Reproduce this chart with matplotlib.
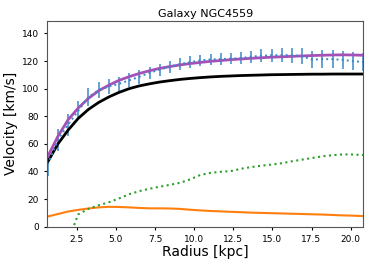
import numpy as np
import matplotlib.pyplot as plt

# Radius grid [kpc]
radius = [0.65, 1.30, 1.95, 2.60, 3.25, 3.90, 4.55, 5.20, 5.85, 6.50, 7.15, 7.80,
          8.45, 9.10, 9.75, 10.40, 11.05, 11.70, 12.35, 13.00, 13.65, 14.30, 14.95, 15.60,
          16.25, 16.90, 17.55, 18.20, 18.85, 19.50, 20.15, 20.80]

# Observed rotation curve and errors [km/s]
v_obs = [45, 63, 74, 84, 94, 99, 101.5, 103.5, 106, 108.6, 111.5, 113.8,
         115.9, 117.8, 119.2, 120.5, 121.2, 121.4, 121.8, 122.1, 123.2, 123.8, 124.2, 124.3,
         124.3, 123.5, 121.0, 121.4, 121.4, 120.8, 120.0, 119.3]
v_err = [8, 8, 8, 7, 6.5, 6, 5.5, 5, 5, 5, 4.5, 4.3,
         4.2, 4.2, 4.2, 4.2, 4.2, 4.2, 4.2, 4.2, 4.4, 4.6, 4.8, 5,
         5.4, 5.8, 6.2, 6.4, 6.6, 6.6, 6.6, 6.6]

# Model components [km/s]
v_total = [51, 65.5, 77.5, 86, 93, 98.5, 102.5, 106, 108.7, 111, 113, 114.7,
           116, 117.2, 118.2, 119, 119.8, 120.4, 121, 121.5, 122, 122.4, 122.8, 123.1,
           123.4, 123.7, 124, 124.2, 124.4, 124.5, 124.4, 124.2]
v_halo = [47, 60, 70, 78.5, 85, 90, 94, 97.3, 100, 102, 103.5, 104.8,
          105.8, 106.7, 107.4, 108, 108.5, 108.9, 109.2, 109.5, 109.7, 109.9, 110.1, 110.2,
          110.3, 110.4, 110.5, 110.5, 110.6, 110.6, 110.6, 110.6]
v_gas = [np.nan, np.nan, -10, 9, 13, 15.5, 17.7, 20.5, 23.5, 25.8, 27.5, 29,
         30.3, 31.8, 34.3, 37.5, 39, 39.8, 40.3, 42, 43.2, 44.2, 45, 46,
         47.4, 48.6, 49.8, 51, 51.8, 52.4, 52.3, 51.9]
v_disk = [7.4, 9.2, 11, 12.2, 13.2, 14, 14.4, 14.3, 14, 13.6, 13.3, 13.3,
          13.2, 12.9, 12.3, 11.8, 11.4, 11.1, 10.8, 10.5, 10.2, 10, 9.8, 9.6,
          9.4, 9.2, 9, 8.8, 8.5, 8.2, 8, 7.7]

fig = plt.figure(figsize=(3.74, 2.66), dpi=100)
ax = fig.add_axes([0.1265, 0.1477, 0.8445, 0.7733])

ax.errorbar(radius, v_obs, yerr=v_err, fmt=':', color='#3b87c6', lw=1.4, elinewidth=1.1)
ax.plot(radius, v_disk, color='C1', lw=1.5)
ax.plot(radius, v_gas, ':', color='C2', lw=1.5)
ax.plot(radius, v_halo, color='k', lw=2)
ax.plot(radius, v_total, color='#a550b8', lw=2)

ax.set_xlim(0.62, 20.8)
ax.set_ylim(0, 149)
ax.set_xticks([2.5, 5, 7.5, 10, 12.5, 15, 17.5, 20])
ax.tick_params(labelsize=6.5, length=2.5, width=0.8)
ax.set_xlabel('Radius [kpc]', fontsize=10, labelpad=1)
ax.set_ylabel('Velocity [km/s]', fontsize=10, labelpad=3)
ax.set_title('Galaxy NGC4559', fontsize=8, pad=3)
for s in ax.spines.values():
    s.set_color('#555555')

fig.savefig('out.png', dpi=100)
